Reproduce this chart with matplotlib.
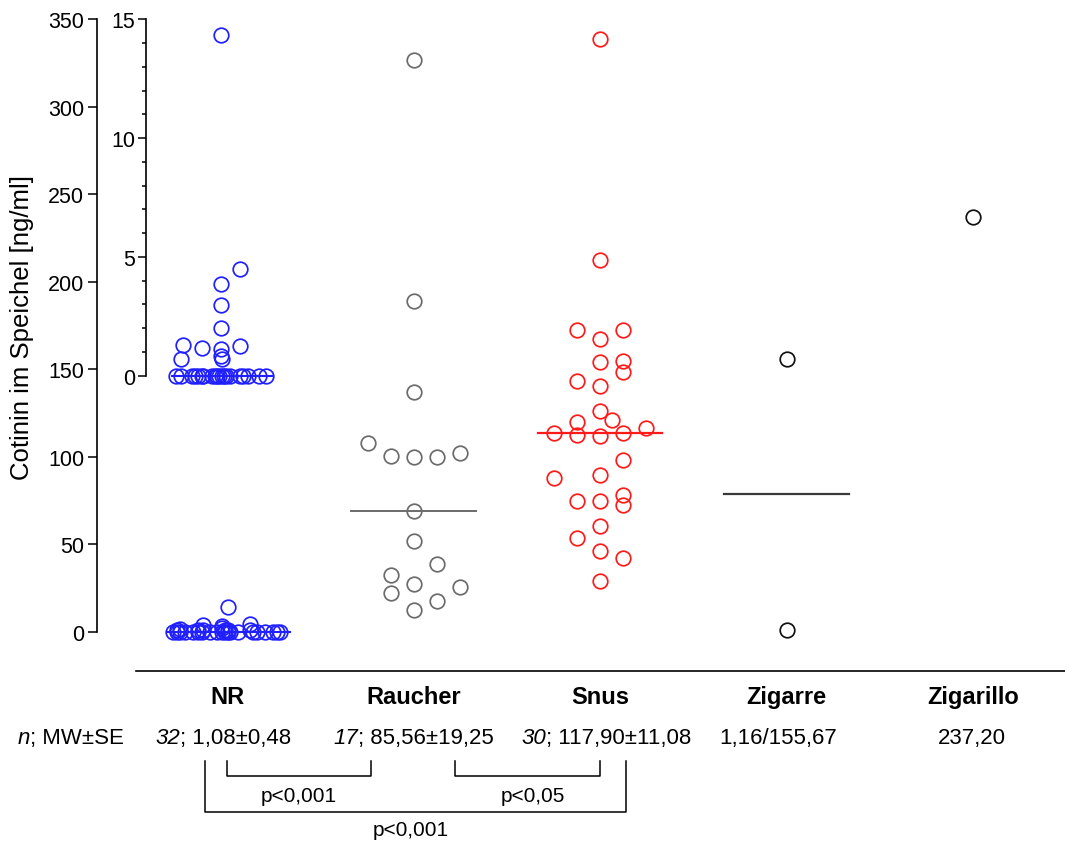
import numpy as np
import matplotlib
matplotlib.use("Agg")
import matplotlib.pyplot as plt
from matplotlib.lines import Line2D
from matplotlib.ticker import FixedLocator

plt.rcParams['font.family'] = ['Liberation Sans', 'DejaVu Sans']

# ---------------- data ----------------
categories = ["NR", "Raucher", "Snus", "Zigarre", "Zigarillo"]
stats_n = ["32", "17", "30", "", ""]
stats_rest = ["; 1,08±0,48", "; 85,56±19,25", "; 117,90±11,08", "1,16/155,67", "237,20"]
header_n = "n"
header_rest = "; MW±SE"

nr_values = [14.35, 4.49, 3.87, 2.97, 1.99, 1.31, 1.24, 1.18, 1.12, 0.84, 0.70, 0.69] + [0.0] * 20
raucher_values = [326.7, 189.2, 136.8, 107.7, 100.2, 99.8, 100.0, 102.3, 69.2, 51.8,
                  38.5, 32.2, 27.1, 22.1, 25.5, 17.4, 12.6]
snus_values = [338.6, 212.3, 172.6, 167.3, 172.6, 154.0, 154.5, 148.2, 143.5, 140.2,
               126.3, 121.2, 120.0, 113.6, 112.4, 112.0, 113.6, 116.2, 98.1, 87.7,
               89.6, 74.9, 74.5, 78.1, 72.4, 60.2, 53.7, 45.9, 42.3, 29.1]
zigarre_values = [155.67, 1.16]
zigarillo_values = [237.20]

p_labels = ["p<0,001", "p<0,05", "p<0,001"]

# ---------------- layout (pixels) ----------------
W, H = 1065, 845
SP = 186.5  # px per category
def fx(x): return x / W
def fy(y): return 1 - y / H

nr_off_zoom = np.array([-6, 13, -6, -6, -6, -44, 13, -25, -6, -6, -5, -46,
                        -51, -46, -35, -32, -29, -25, -24, -15, -12, -10, -8, -5,
                        -3, -1, 3, 13, 16, 21, 32, 39]) / SP
nr_off_main = np.array([1, 23, -24, -5, -5, -47, 23, -24, -2, 1, -29, -50,
                        -54, -50, -47, -42, -34, -29, -25, -17, -10, -5, -2, 1,
                        3, 11, 26, 30, 38, 46, 50, 53]) / SP
step = 23 / SP
raucher_off = np.array([0, 0, 0, -2, -1, 0, 1, 2, 0, 0, 1, -1, 0, -1, 2, 1, 0]) * step
snus_off = np.array([0, 0, -1, 0, 1, 0, 1, 1, -1, 0, 0, 0.5, -1, -2, -1, 0, 1, 2, 1, -2,
                     0, -1, 0, 1, 1, 0, -1, 0, 1, 0]) * step
stats_center_px = [223, 414, 606, 778, 972]

blue = '#1f1fff'
gray = '#6b6b6b'
red = '#ff1a1a'
black = '#111111'

fig = plt.figure(figsize=(W / 100, H / 100), dpi=100)
ax = fig.add_axes([fx(96.7), fy(671.7), fx(1065) - fx(96.7), fy(20.3) - fy(671.7)])
ax.set_xlim((96.7 - 227) / SP, (1065 - 227) / SP)
ax.set_ylim(-22.3, 350)
for s in ['top', 'right']:
    ax.spines[s].set_visible(False)
ax.spines['left'].set_bounds(0, 350)
ax.spines['bottom'].set_bounds((136 - 227) / SP, (1065 - 227) / SP)
for s in ['left', 'bottom']:
    ax.spines[s].set_linewidth(1.2)
ax.set_yticks(np.arange(0, 351, 50))
ax.tick_params(axis='y', length=6.5, width=1.1, pad=2.5, labelsize=15.5)
ax.set_xticks(range(len(categories)), categories, fontweight='bold')
ax.tick_params(axis='x', length=0, pad=10, labelsize=17)

# inner (NR) axis
ax2 = ax.twinx()
ax2.set_ylim(-12.42, 15)
for s in ['top', 'right', 'bottom']:
    ax2.spines[s].set_visible(False)
ax2.spines['left'].set_visible(True)
ax2.spines['left'].set_position(('axes', (146 - 96.7) / (1065 - 96.7)))
ax2.spines['left'].set_bounds(0, 15)
ax2.spines['left'].set_linewidth(1.2)
ax2.yaxis.set_ticks_position('left')
ax2.set_yticks([0, 5, 10, 15])
ax2.yaxis.set_minor_locator(FixedLocator([v for v in range(0, 16) if v % 5]))
ax2.tick_params(axis='y', which='major', length=5.5, width=1.1, pad=2.3, labelsize=15.5)
ax2.tick_params(axis='y', which='minor', length=3, width=1.1)

mk = dict(marker='o', linestyle='none', ms=10.5, mfc='none', mew=1.25)

ax.plot(0 + nr_off_main, nr_values, mec=blue, **mk)
ax.plot([-0.322, 0.338], [np.median(nr_values)] * 2, color=blue, lw=1.5)
ax2.plot(0 + nr_off_zoom, nr_values, mec=blue, **mk)
ax2.plot([-0.295, 0.241], [np.median(nr_values)] * 2, color=blue, lw=1.5)

hw = 0.333
ax.plot(1 + raucher_off, raucher_values, mec=gray, **mk)
ax.plot([1 - hw, 1 + hw], [np.median(raucher_values)] * 2, color=gray, lw=1.4)
ax.plot(2 + snus_off, snus_values, mec=red, **mk)
ax.plot([2 - hw, 2 + hw], [np.median(snus_values)] * 2, color=red, lw=1.6)
ax.plot([3] * len(zigarre_values), zigarre_values, mec=black, **mk)
ax.plot([3 - hw, 3 + hw], [np.median(zigarre_values)] * 2, color='#3a3a3a', lw=1.6)
ax.plot([4] * len(zigarillo_values), zigarillo_values, mec=black, **mk)

fig.text(fx(22), fy(327), "Cotinin im Speichel [ng/ml]", rotation=90,
         ha='center', va='center', fontsize=18.5)

renderer = fig.canvas.get_renderer()
def mixed(xc_px, y_px, parts, fs):
    objs = []
    for s, st in parts:
        if not s:
            continue
        t = fig.text(0, 0, s, fontsize=fs, style=st, ha='left', va='center')
        objs.append((t, t.get_window_extent(renderer).width))
    total = sum(w for _, w in objs)
    x = xc_px - total / 2
    for t, w in objs:
        t.set_position((fx(x), fy(y_px)))
        x += w

for i in range(len(categories)):
    mixed(stats_center_px[i], 739, [(stats_n[i], 'italic'), (stats_rest[i], 'normal')], 16)
mixed(71, 739, [(header_n, 'italic'), (header_rest, 'normal')], 16)

def bracket(x1, x2, ytop, ybot):
    fig.add_artist(Line2D([fx(x1), fx(x1), fx(x2), fx(x2)],
                          [fy(ytop), fy(ybot), fy(ybot), fy(ytop)],
                          color='black', lw=1.1))
bracket(227, 371, 762, 777)
bracket(455, 600, 762, 777)
bracket(205, 626, 762, 813)
fig.text(fx(299), fy(797), p_labels[0], ha='center', va='center', fontsize=15)
fig.text(fx(533), fy(797), p_labels[1], ha='center', va='center', fontsize=15)
fig.text(fx(411), fy(831), p_labels[2], ha='center', va='center', fontsize=15)

fig.savefig("out.png", dpi=100)
